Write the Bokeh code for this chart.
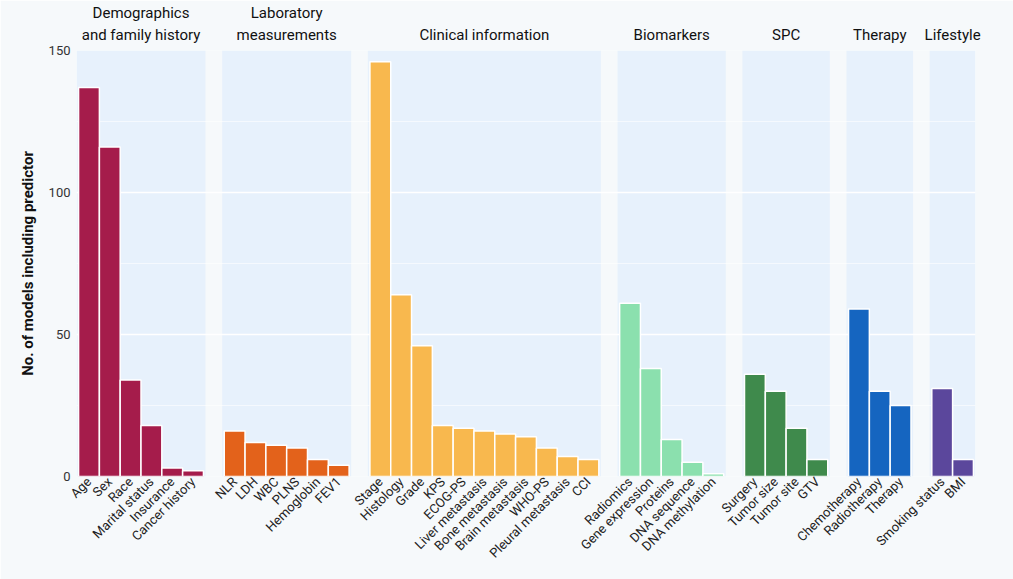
import math
from bokeh.plotting import figure
from bokeh.models import FactorRange, CategoricalAxis, ColumnDataSource, FixedTicker, Range1d
from bokeh.embed import file_html
from bokeh.resources import INLINE

# ---- data ----
groups = ["Demographics\nand family history", "Laboratory\nmeasurements",
          "Clinical information", "Biomarkers", "SPC", "Therapy", "Lifestyle"]

demo_names = ["Age", "Sex", "Race", "Marital status", "Insurance", "Cancer history"]
demo_vals = [137, 116, 34, 18, 3, 2]
lab_names = ["NLR", "LDH", "WBC", "PLNS", "Hemoglobin", "FEV1"]
lab_vals = [16, 12, 11, 10, 6, 4]
clin_names = ["Stage", "Histology", "Grade", "KPS", "ECOG-PS", "Liver metastasis",
              "Bone metastasis", "Brain metastasis", "WHO-PS", "Pleural metastasis", "CCI"]
clin_vals = [146, 64, 46, 18, 17, 16, 15, 14, 10, 7, 6]
bio_names = ["Radiomics", "Gene expression", "Proteins", "DNA sequence", "DNA methylation"]
bio_vals = [61, 38, 13, 5, 1]
spc_names = ["Surgery", "Tumor size", "Tumor site", "GTV"]
spc_vals = [36, 30, 17, 6]
ther_names = ["Chemotherapy", "Radiotherapy", "Therapy"]
ther_vals = [59, 30, 25]
life_names = ["Smoking status", "BMI"]
life_vals = [31, 6]

group_colors = ["#a51c4b", "#e3621b", "#f8b84e", "#8be0ae", "#3f8a4c", "#1565c0", "#5b479c"]
y_ticks = [0, 50, 100, 150]
y_minor = [25, 75, 125]

PAGE_BG = "#f6f9fb"
PANEL_BG = "#e7f1fc"
FONT = "Roboto"

names_by_group = [demo_names, lab_names, clin_names, bio_names, spc_names, ther_names, life_names]
vals_by_group = [demo_vals, lab_vals, clin_vals, bio_vals, spc_vals, ther_vals, life_vals]

factors, values, colors = [], [], []
for g, ns, vs, c in zip(groups, names_by_group, vals_by_group, group_colors):
    for n, v in zip(ns, vs):
        factors.append((g, n))
        values.append(v)
        colors.append(c)

src = ColumnDataSource(dict(x=factors, top=values, color=colors))

bg_left = [(g, ns[0], -0.6) for g, ns in zip(groups, names_by_group)]
bg_right = [(g, ns[-1], 0.6) for g, ns in zip(groups, names_by_group)]
bg_src = ColumnDataSource(dict(left=bg_left, right=bg_right,
                               bottom=[y_ticks[0]] * len(groups),
                               top=[y_ticks[-1]] * len(groups)))

x_range = FactorRange(*factors, group_padding=1.0, range_padding=0.1,
                      range_padding_units="absolute")

p = figure(x_range=x_range, y_range=Range1d(y_ticks[0], y_ticks[-1]),
           width=1013, height=579, output_backend="svg", toolbar_location=None,
           min_border_left=76, min_border_right=38, min_border_top=50, min_border_bottom=103)

p.background_fill_color = PAGE_BG
p.border_fill_color = PAGE_BG
p.outline_line_color = None

bg = p.quad(left="left", right="right", bottom="bottom", top="top", source=bg_src,
            fill_color=PANEL_BG, line_color=None)
bg.level = "image"

p.vbar(x="x", top="top", width=1.0, source=src, fill_color="color",
       line_color="white", line_width=1.5)

# grid
p.xgrid.grid_line_color = None
p.ygrid.ticker = FixedTicker(ticks=y_ticks, minor_ticks=y_minor)
p.ygrid.grid_line_color = "white"
p.ygrid.grid_line_width = 1.5
p.ygrid.minor_grid_line_color = "white"
p.ygrid.minor_grid_line_alpha = 0.6

# y axis
p.yaxis.ticker = FixedTicker(ticks=y_ticks, minor_ticks=y_minor)
p.yaxis.axis_label = "No. of models including predictor"
p.yaxis.axis_label_text_font = FONT
p.yaxis.axis_label_text_font_style = "bold"
p.yaxis.axis_label_text_font_size = "15px"
p.yaxis.axis_label_text_color = "#111111"
p.yaxis.axis_label_standoff = 9
p.yaxis.major_label_text_font = FONT
p.yaxis.major_label_text_font_size = "13px"
p.yaxis.major_label_text_color = "#333333"
p.yaxis.axis_line_color = None
p.yaxis.major_tick_line_color = None
p.yaxis.minor_tick_line_color = None
p.yaxis.major_tick_out = 0
p.yaxis.minor_tick_out = 0
p.yaxis.major_label_standoff = 6

# bottom x axis
xa = p.xaxis[0]
xa.major_label_orientation = math.pi / 4
xa.major_label_text_font = FONT
xa.major_label_text_font_size = "13px"
xa.major_label_text_color = "#222222"
xa.major_label_standoff = 3
xa.group_text_font_size = "0px"
xa.group_text_alpha = 0
xa.separator_line_alpha = 0
xa.axis_line_color = None
xa.major_tick_line_color = None
xa.minor_tick_line_color = None
xa.major_tick_out = 0
xa.minor_tick_out = 0

# top axis carries group titles
ta = CategoricalAxis()
ta.major_label_text_font_size = "0px"
ta.major_label_text_alpha = 0
ta.major_label_standoff = 7
ta.group_text_font = FONT
ta.group_text_font_size = "15px"
ta.group_text_font_style = "normal"
ta.group_text_color = "#111111"
ta.separator_line_alpha = 0
ta.axis_line_color = None
ta.major_tick_line_color = None
ta.minor_tick_line_color = None
ta.major_tick_out = 0
ta.minor_tick_out = 0
p.add_layout(ta, "above")

open("out.html", "w").write(file_html(p, INLINE))
